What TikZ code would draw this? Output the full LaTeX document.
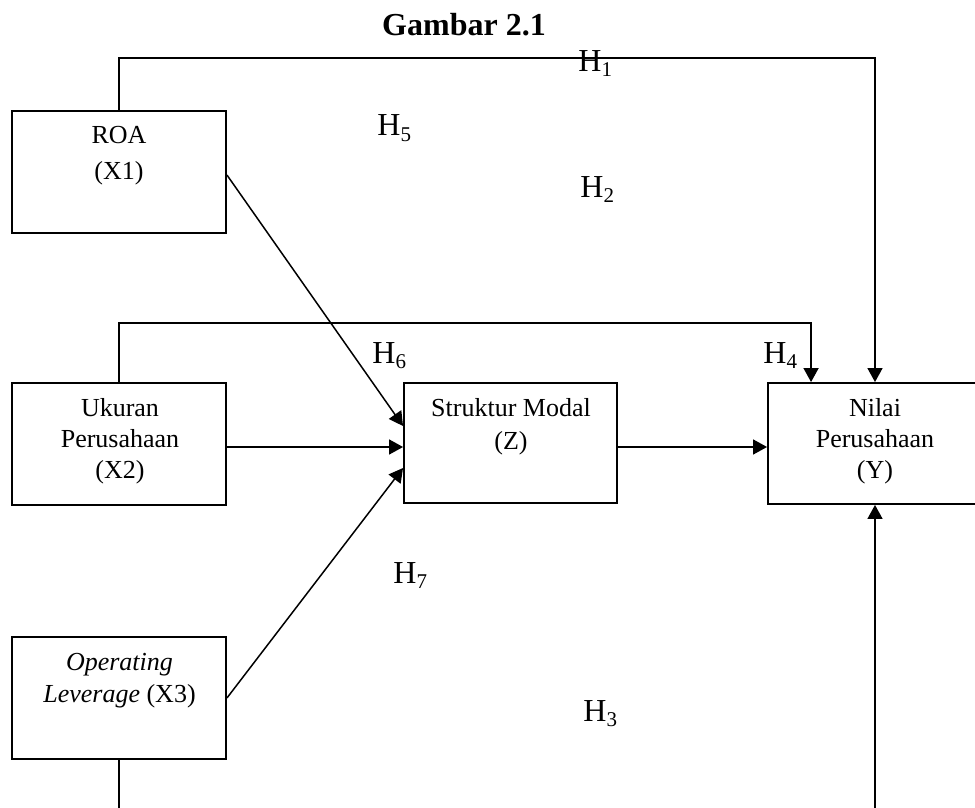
\documentclass[tikz,border=0pt]{standalone}
\usepackage{fontspec}
\setmainfont{Liberation Serif}
\usetikzlibrary{arrows.meta}
\newcommand\Hlab[1]{H\raisebox{-2.5pt}{\fontsize{10.5}{12}\selectfont #1}}
\begin{document}
\begin{tikzpicture}[x=0.5pt,y=-0.5pt,
  box/.style={draw, line width=0.95pt, minimum width=107pt, inner sep=0pt},
  txt/.style={align=center, font=\fontsize{13}{15.5}\selectfont, inner sep=0pt},
  hl/.style={anchor=base west, inner sep=0pt, font=\fontsize{16}{18}\selectfont},
  conn/.style={line width=0.75pt},
  arr/.style={conn, -{Triangle[length=7pt,width=7.5pt]}}]
\useasboundingbox (0,0) rectangle (975,808);
\clip (0,0) rectangle (975,808);
% title
\node[font=\bfseries\fontsize{16}{18}\selectfont] (title) at (464,25) {Gambar 2.1};
% boxes
\node[box, minimum height=61pt] (roa) at (119,172) {};
\node[box, minimum height=61pt] (uk) at (119,444) {};
\node[box, minimum height=61pt] (op) at (119,698) {};
\node[box, minimum width=106.5pt, minimum height=60pt] (sm) at (510.5,443) {};
\node[box, minimum height=60.5pt] (ny) at (875,443.5) {};
% box texts
\node[txt, font=\fontsize{13}{18}\selectfont] (troa) at (119,156) {ROA\\(X1)};
\node[txt] (tuk) at (120,441) {Ukuran\\Perusahaan\\(X2)};
\node[txt, font=\fontsize{13}{16.5}\selectfont] (tsm) at (511,427) {Struktur Modal\\(Z)};
\node[txt] (tny) at (875,441) {Nilai\\Perusahaan\\(Y)};
\node[txt, font=\fontsize{13}{16}\selectfont] (top) at (119.5,681) {\textit{Operating}\\\textit{Leverage} (X3)};
% hypothesis labels
\node[hl] (h1) at (578,72) {\Hlab{1}};
\node[hl] (h5) at (377,136) {\Hlab{5}};
\node[hl] (h2) at (580,198) {\Hlab{2}};
\node[hl] (h6) at (372,363) {\Hlab{6}};
\node[hl] (h4) at (763,363) {\Hlab{4}};
\node[hl] (h7) at (393,583) {\Hlab{7}};
\node[hl] (h3) at (583,721) {\Hlab{3}};
% connectors
\draw[arr] (roa.north) -- ++(0,-52) -| (ny.north);
\draw[arr] (uk.north) -- ++(0,-59) -| ([xshift=22pt]ny.north west);
\draw[arr] ([yshift=-1.5pt]roa.east) -- ([yshift=8.5pt]sm.west);
\draw[arr] ([yshift=-1.5pt]uk.east) -- ([yshift=-1.5pt]uk.east -| sm.west);
\draw[arr] (op.east) -- ([yshift=-12.5pt]sm.west);
\draw[arr] ([yshift=-2pt]sm.east) -- ([yshift=-2pt]sm.east -| ny.west);
\draw[arr] (op.south) -- ++(0,80) -| (ny.south);
\end{tikzpicture}
\end{document}
